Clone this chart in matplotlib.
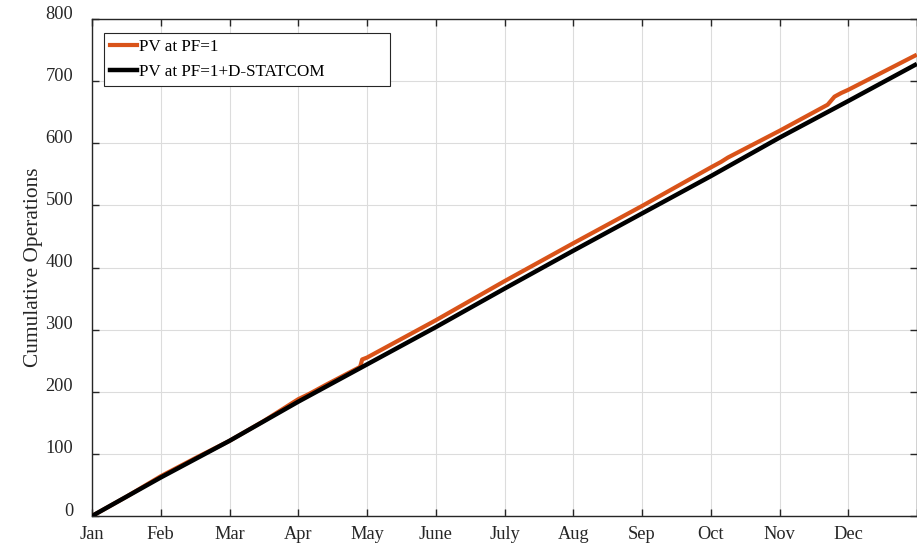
import matplotlib
matplotlib.use("Agg")
import matplotlib.pyplot as plt
import matplotlib.transforms as mtransforms

# 字体设置
plt.rcParams['font.family'] = ['Liberation Serif', 'DejaVu Serif']
plt.rcParams['mathtext.fontset'] = 'stix'

# x in months since Jan 1 (ticks evenly spaced, one per month)
month_labels = ['Jan', 'Feb', 'Mar', 'Apr', 'May', 'June', 'July', 'Aug', 'Sep', 'Oct', 'Nov', 'Dec', '']

# PV at PF=1+D-STATCOM (black)
statcom_t = [0, 1, 2, 3, 4, 5, 6, 7, 8, 9, 10, 11, 11.97]
statcom_ops = [0, 62, 121, 184, 244, 304, 366, 427, 487, 547, 609, 668, 726]

# PV at PF=1 (orange)
pv_t = [0, 0.5, 1, 1.5, 2, 2.5, 3, 3.15, 3.4, 3.9, 3.93, 4, 5, 6, 7, 8, 9, 9.15, 9.25,
        10, 10.55, 10.7, 10.8, 10.9, 11, 11.97]
pv_ops = [0, 31, 64, 93, 121, 153, 188, 196, 211, 240, 252, 255, 315, 378, 439, 499, 561, 570, 577,
          620, 653, 662, 675, 681, 686, 741]

fig = plt.figure(figsize=(9.17, 5.45), dpi=100)
ax = fig.add_axes([92 / 917, 29 / 545, 825 / 917, 497 / 545])

ax.plot(pv_t, pv_ops, color='#D95319', lw=3, label='PV at PF=1', zorder=3)
ax.plot(statcom_t, statcom_ops, color='black', lw=3.2, label='PV at PF=1+D-STATCOM', zorder=4)

ax.set_xlim(0, 12)
ax.set_ylim(0, 800)
ax.set_xticks(range(13))
ax.set_xticklabels(month_labels)
ax.set_yticks(range(0, 801, 100))

# 网格和坐标轴
ax.grid(True, color='#DCDCDC', lw=0.8)
ax.set_axisbelow(True)
for sp in ax.spines.values():
    sp.set_color('#262626')
    sp.set_linewidth(1.0)
ax.tick_params(direction='in', length=5, width=1, color='#262626', top=True, right=True,
               labelsize=13.2, labelcolor='#262626')
ax.tick_params(axis='x', pad=7)
ax.tick_params(axis='y', pad=13.5)

# MATLAB style: y tick labels sit a bit above their ticks
offset = mtransforms.ScaledTranslation(0, 5 / 72, fig.dpi_scale_trans)
for lab in ax.get_yticklabels():
    lab.set_transform(lab.get_transform() + offset)

ax.set_ylabel('Cumulative Operations', fontsize=15.4, color='#262626', labelpad=1.5)

# 图例 (wide MATLAB-like box)
leg = ax.legend(loc='upper left', bbox_to_anchor=(12 / 825, 0, 286 / 825, 1 - 14 / 497),
                mode='expand', borderaxespad=0,
                fancybox=False, framealpha=1, edgecolor='#262626', fontsize=12.3,
                handlelength=1.6, handletextpad=0.12, borderpad=0.35, labelspacing=0.5)
leg.get_frame().set_linewidth(0.8)

plt.savefig('out.png', dpi=100)
plt.close()
